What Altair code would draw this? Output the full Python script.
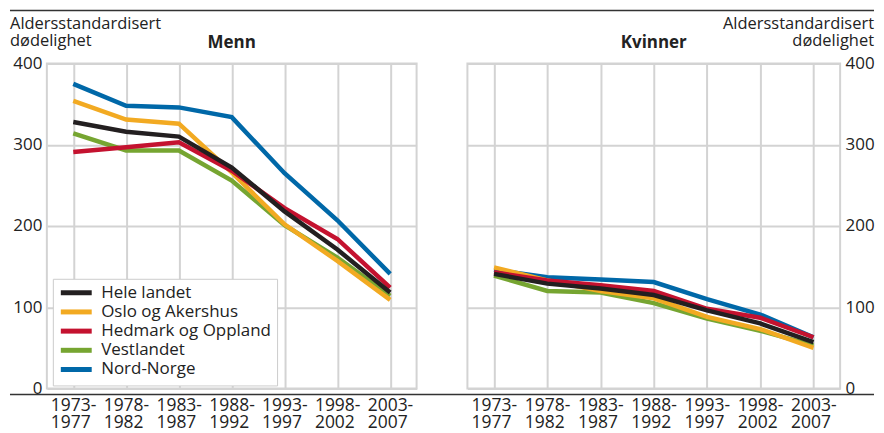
import altair as alt
import pandas as pd

periods = ["1973-1977", "1978-1982", "1983-1987", "1988-1992", "1993-1997", "1998-2002", "2003-2007"]
regions = ["Hele landet", "Oslo og Akershus", "Hedmark og Oppland", "Vestlandet", "Nord-Norge"]
colors = ["#231f20", "#f2aa22", "#c4122f", "#76a531", "#0068a8"]
draw_order = ["Nord-Norge", "Vestlandet", "Oslo og Akershus", "Hedmark og Oppland", "Hele landet"]

# Menn
menn_hele = [328, 316, 310, 272, 218, 171, 118]
menn_oslo = [354, 331, 326, 266, 202, 157, 109]
menn_hedmark = [291, 297, 303, 268, 222, 184, 124]
menn_vest = [314, 293, 293, 256, 201, 161, 114]
menn_nord = [375, 348, 346, 334, 265, 207, 141]

# Kvinner
kv_hele = [141, 129, 123, 115, 96, 80, 57]
kv_oslo = [149, 133, 120, 111, 88, 73, 50]
kv_hedmark = [143, 133, 127, 120, 98, 87, 63]
kv_vest = [139, 120, 118, 105, 86, 71, 53]
kv_nord = [146, 137, 134, 131, 110, 91, 63]

y_title = "Aldersstandardisert\ndødelighet"
font = "Open Sans"
grid_col = "#d3d3d3"
txt_col = "#222222"

LEFT_W = 371
RIGHT_W = 374
GAP = 51


def make_df(series):
    rows = []
    for reg in draw_order:
        for p, v in zip(periods, series[reg]):
            rows.append({"period": p, "value": v, "region": reg})
    return pd.DataFrame(rows)


menn_df = make_df({"Hele landet": menn_hele, "Oslo og Akershus": menn_oslo,
                   "Hedmark og Oppland": menn_hedmark, "Vestlandet": menn_vest,
                   "Nord-Norge": menn_nord})
kv_df = make_df({"Hele landet": kv_hele, "Oslo og Akershus": kv_oslo,
                 "Hedmark og Oppland": kv_hedmark, "Vestlandet": kv_vest,
                 "Nord-Norge": kv_nord})

one = pd.DataFrame({"a": [0]})


def panel(df, width, title, side, show_legend):
    x = alt.X("period:O", sort=periods,
              scale=alt.Scale(type="point", padding=0.5),
              axis=alt.Axis(title=None, grid=True, gridColor=grid_col, gridWidth=2,
                            ticks=False, domain=False, labelAngle=0, labelFontSize=17.5,
                            labelColor=txt_col,
                            labelExpr="[substring(datum.label,0,5), substring(datum.label,5)]",
                            labelLineHeight=17.5, labelPadding=8, labelAlign="left",
                            labelOffset=-23, labelBaseline="top"))
    y = alt.Y("value:Q", scale=alt.Scale(domain=[0, 400], nice=False),
              axis=alt.Axis(title=None, values=[0, 100, 200, 300, 400], grid=True,
                            gridColor=grid_col, gridWidth=2, ticks=False, domain=False,
                            labelFontSize=17, labelColor=txt_col, labelPadding=5,
                            orient=side))
    if show_legend:
        leg = alt.Legend(title=None, orient="none", legendX=6, legendY=216,
                         symbolType="M-1,0H4.1667", symbolSize=144,
                         symbolStrokeWidth=5, labelFontSize=17, labelColor=txt_col,
                         labelOffset=26, labelLimit=400, rowPadding=-1.75, padding=5.5,
                         strokeColor="#cccccc", fillColor="white")
    else:
        leg = None
    color = alt.Color("region:N", scale=alt.Scale(domain=regions, range=colors), legend=leg)
    base = alt.Chart(df).mark_line(strokeWidth=4.5).encode(x=x, y=y, color=color)
    layers = [base.transform_filter(alt.datum.region == r) for r in draw_order]

    ttl = alt.Chart(one).mark_text(font=font, fontSize=17, fontWeight="bold",
                                   align="center", baseline="alphabetic",
                                   color=txt_col).encode(
        x=alt.value(width / 2), y=alt.value(-16), text=alt.value(title))
    if side == "left":
        total_right = LEFT_W + GAP + RIGHT_W + 34
        yt = alt.Chart(one).mark_text(font=font, fontSize=16.5, align="left",
                                      baseline="alphabetic", lineBreak="\n",
                                      lineHeight=17, color=txt_col).encode(
            x=alt.value(-37), y=alt.value(-35), text=alt.value(y_title))
        top_rule = alt.Chart(one).mark_rule(color="#333333", strokeWidth=1.5).encode(
            x=alt.value(-37), x2=alt.value(total_right), y=alt.value(-53.25))
        bot_rule = alt.Chart(one).mark_rule(color="#333333", strokeWidth=1.5).encode(
            x=alt.value(-37), x2=alt.value(total_right), y=alt.value(332))
        extra = [yt, top_rule, bot_rule]
    else:
        yt = alt.Chart(one).mark_text(font=font, fontSize=16.5, align="right",
                                      baseline="alphabetic", lineBreak="\n",
                                      lineHeight=17, color=txt_col).encode(
            x=alt.value(width + 34), y=alt.value(-35), text=alt.value(y_title))
        extra = [yt]
    return alt.layer(*layers, ttl, *extra).properties(width=width, height=326)


left = panel(menn_df, LEFT_W, "Menn", "left", True)
right = panel(kv_df, RIGHT_W, "Kvinner", "right", False)

chart = alt.hconcat(left, right, spacing=GAP, bounds="flush").resolve_legend(
    color="independent").properties(padding=0).configure(font=font).configure_view(
    stroke=grid_col, strokeWidth=2)

chart.save("out.html", embed_options={"renderer": "svg", "actions": False})
